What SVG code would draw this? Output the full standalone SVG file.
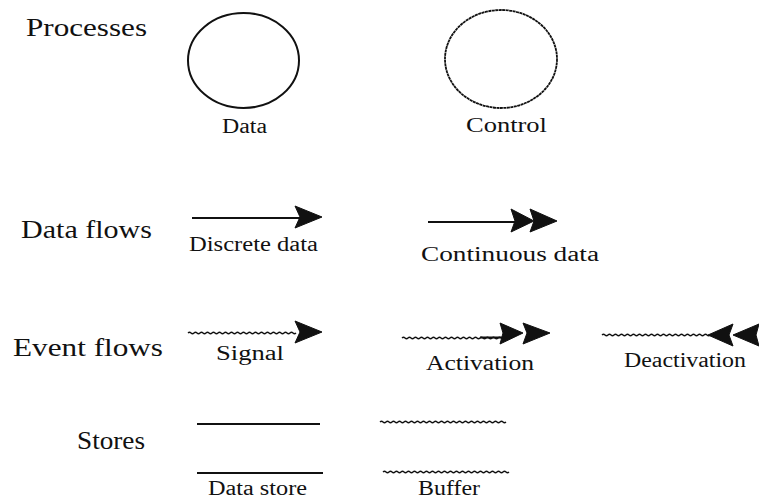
<svg xmlns="http://www.w3.org/2000/svg" width="759" height="502" viewBox="0 0 759 502">
<style>
.lbl{font-family:"Liberation Serif","Times New Roman",serif;font-size:26px;fill:#111}
.sm{font-family:"Liberation Serif","Times New Roman",serif;font-size:20px;fill:#111}
.solid{fill:none;stroke:#111;stroke-width:2}
.wavy{fill:none;stroke:#111;stroke-width:1.4}
.head{fill:#111;stroke:#111;stroke-width:1}
</style>
<rect width="759" height="502" fill="#fff"/>
<g id="row-labels">
<text class="lbl" x="26" y="36" textLength="121" lengthAdjust="spacingAndGlyphs">Processes</text>
<text class="lbl" x="21" y="238" textLength="131" lengthAdjust="spacingAndGlyphs">Data flows</text>
<text class="lbl" x="13" y="356" textLength="150" lengthAdjust="spacingAndGlyphs">Event flows</text>
<text class="lbl" x="77" y="449" textLength="68" lengthAdjust="spacingAndGlyphs">Stores</text>
</g>
<g id="data-process">
<ellipse cx="243.5" cy="60.5" rx="55.5" ry="47.5" fill="none" stroke="#111" stroke-width="2"/>
<text class="sm" x="222" y="133" textLength="45" lengthAdjust="spacingAndGlyphs">Data</text>
</g>
<g id="control-process">
<ellipse cx="501" cy="59" rx="56" ry="49" fill="none" stroke="#111" stroke-width="1.8" stroke-dasharray="3 0.5"/>
<text class="sm" x="466" y="132" textLength="81" lengthAdjust="spacingAndGlyphs">Control</text>
</g>
<g id="connectors">
<g id="discrete-data">
<line class="solid" x1="192" y1="218" x2="300" y2="218"/>
<polygon class="head" points="295,206 322,217 295,228 300,217"/>
</g>
<g id="continuous-data">
<line class="solid" x1="428" y1="222" x2="515" y2="222"/>
<polygon class="head" points="511,209 534,221 511,232 515,221"/>
<polygon class="head" points="530,209 557,221 530,232 534,221"/>
</g>
<g id="signal">
<path class="wavy" d="M188 333 q1.5 -1.3 3 0 t3 0 t3 0 t3 0 t3 0 t3 0 t3 0 t3 0 t3 0 t3 0 t3 0 t3 0 t3 0 t3 0 t3 0 t3 0 t3 0 t3 0 t3 0 t3 0 t3 0 t3 0 t3 0 t3 0 t3 0 t3 0 t3 0 t3 0 t3 0 t3 0 t3 0 t3 0 t3 0 t3 0 t3 0 t3 0"/>
<polygon class="head" points="295,321 322,332 295,343 300,332"/>
</g>
<g id="activation">
<path class="wavy" d="M402 338 q1.5 -1.3 3 0 t3 0 t3 0 t3 0 t3 0 t3 0 t3 0 t3 0 t3 0 t3 0 t3 0 t3 0 t3 0 t3 0 t3 0 t3 0 t3 0 t3 0 t3 0 t3 0 t3 0 t3 0 t3 0 t3 0 t3 0 t3 0 t3 0 t3 0 t3 0 t3 0 t3 0 t3 0 t3 0"/>
<line class="solid" x1="480" y1="337.5" x2="503" y2="337.5" stroke-width="1.6"/>
<polygon class="head" points="500,323 523,333 500,344 503,333"/>
<polygon class="head" points="523,323 550,333 523,344 527,333"/>
</g>
<g id="deactivation">
<path class="wavy" d="M602 335 q1.5 -1.3 3 0 t3 0 t3 0 t3 0 t3 0 t3 0 t3 0 t3 0 t3 0 t3 0 t3 0 t3 0 t3 0 t3 0 t3 0 t3 0 t3 0 t3 0 t3 0 t3 0 t3 0 t3 0 t3 0 t3 0 t3 0 t3 0 t3 0 t3 0 t3 0 t3 0 t3 0 t3 0 t3 0 t3 0 t3 0 t3 0"/>
<polygon class="head" points="733,324 708,335 733,346 729,335"/>
<polygon class="head" points="759,324 733,335 759,346 756,335"/>
</g>
</g>
<g id="flow-labels">
<text class="sm" x="189" y="251" textLength="129" lengthAdjust="spacingAndGlyphs">Discrete data</text>
<text class="sm" x="421" y="261" textLength="178" lengthAdjust="spacingAndGlyphs">Continuous data</text>
<text class="sm" x="216" y="360" textLength="68" lengthAdjust="spacingAndGlyphs">Signal</text>
<text class="sm" x="426" y="370" textLength="108" lengthAdjust="spacingAndGlyphs">Activation</text>
<text class="sm" x="624" y="367" textLength="122" lengthAdjust="spacingAndGlyphs">Deactivation</text>
</g>
<g id="data-store">
<line class="solid" x1="197" y1="424" x2="320" y2="424"/>
<line class="solid" x1="197" y1="473" x2="323" y2="473"/>
<text class="sm" x="208" y="495" textLength="99" lengthAdjust="spacingAndGlyphs">Data store</text>
</g>
<g id="buffer">
<path class="wavy" d="M380 422 q1.5 -1.3 3 0 t3 0 t3 0 t3 0 t3 0 t3 0 t3 0 t3 0 t3 0 t3 0 t3 0 t3 0 t3 0 t3 0 t3 0 t3 0 t3 0 t3 0 t3 0 t3 0 t3 0 t3 0 t3 0 t3 0 t3 0 t3 0 t3 0 t3 0 t3 0 t3 0 t3 0 t3 0 t3 0 t3 0 t3 0 t3 0 t3 0 t3 0 t3 0 t3 0 t3 0 t3 0"/>
<path class="wavy" d="M383 472 q1.5 -1.3 3 0 t3 0 t3 0 t3 0 t3 0 t3 0 t3 0 t3 0 t3 0 t3 0 t3 0 t3 0 t3 0 t3 0 t3 0 t3 0 t3 0 t3 0 t3 0 t3 0 t3 0 t3 0 t3 0 t3 0 t3 0 t3 0 t3 0 t3 0 t3 0 t3 0 t3 0 t3 0 t3 0 t3 0 t3 0 t3 0 t3 0 t3 0 t3 0 t3 0 t3 0 t3 0"/>
<text class="sm" x="418" y="495" textLength="62" lengthAdjust="spacingAndGlyphs">Buffer</text>
</g>
</svg>
